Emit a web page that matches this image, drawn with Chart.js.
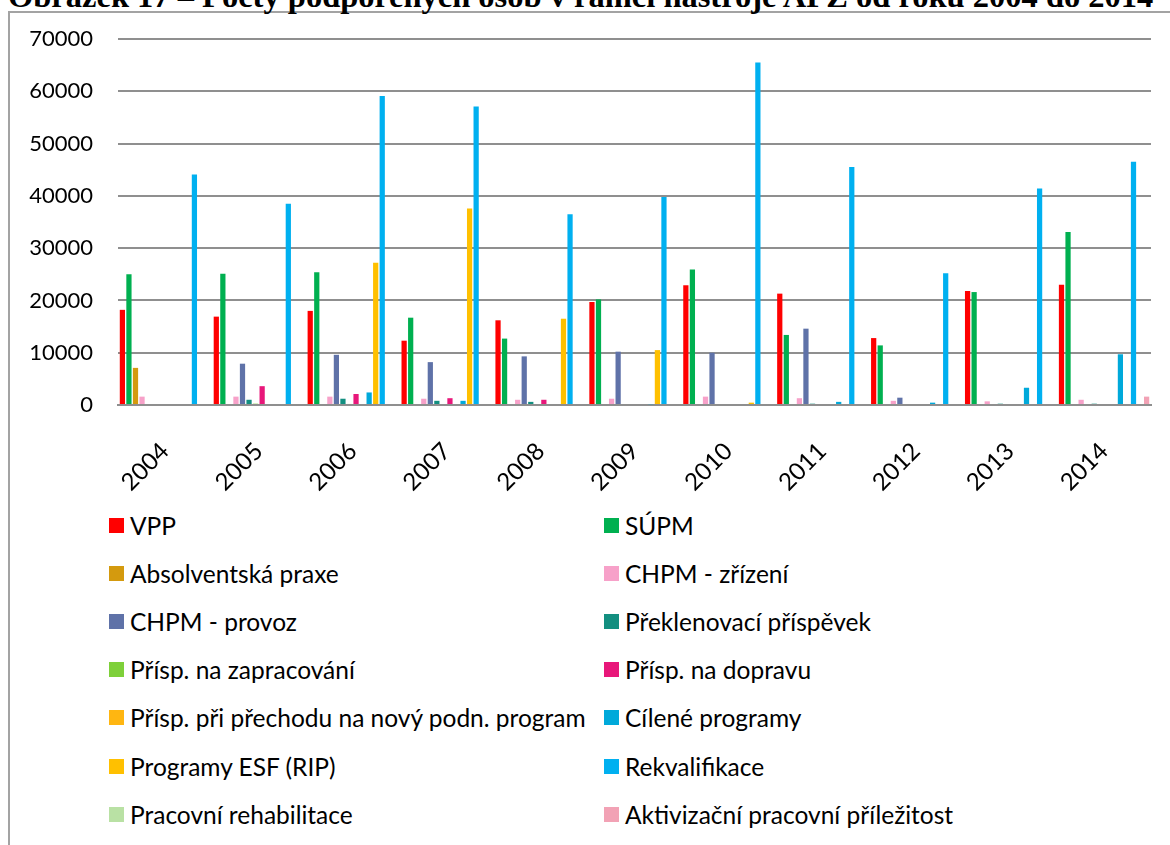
<!DOCTYPE html>
<html lang="cs">
<head>
<meta charset="utf-8">
<title>Počty podpořených osob v rámci nástroje APZ</title>
<script src="https://cdn.jsdelivr.net/npm/chart.js@4.4.1/dist/chart.umd.min.js"></script>
<style>
    html, body { margin: 0; padding: 0; background: #fff; width: 1170px; height: 845px; overflow: hidden; }
    .title { position: absolute; left: 8px; top: -20px; font: bold 32.5px/33px "Liberation Serif", "Times New Roman", serif; white-space: nowrap; color: #000; }
    .frame { position: absolute; left: 8px; top: 11px; width: 1200px; height: 900px; border-top: 2px solid #a3a3a3; border-left: 2px solid #a3a3a3; }
    .chart-wrap { position: absolute; left: 0; top: 0; width: 1170px; height: 500px; }
    .legend { position: absolute; left: 0; top: 0; font: 24.5px "Lato", sans-serif; color: #000; }
    .legend-item { position: absolute; display: flex; align-items: center; height: 30px; white-space: nowrap; }
    .legend-box { width: 15px; height: 15px; margin-right: 6px; flex: none; }
</style>
</head>
<body>
<div class="frame"></div>
<div class="title">Obrázek 17 – Počty podpořených osob v rámci nástroje APZ od roku 2004 do 2014</div>
<div class="chart-wrap"><canvas id="apzChart" width="1170" height="500"></canvas></div>
<div class="legend" id="apzLegend"></div>

<script>
// data
const years = ['2004', '2005', '2006', '2007', '2008', '2009', '2010', '2011', '2012', '2013', '2014'];
const yTickLabels = ['0', '10000', '20000', '30000', '40000', '50000', '60000', '70000'];

const vpp = [18200, 16900, 18000, 12300, 16200, 19700, 22900, 21300, 12800, 21800, 23000];
const supm = [25000, 25100, 25400, 16700, 12700, 20200, 25900, 13400, 11400, 21600, 33100];
const absolventskaPraxe = [7100, 0, 0, 0, 0, 0, 0, 0, 0, 0, 0];
const chpmZrizeni = [1600, 1600, 1600, 1200, 1000, 1200, 1600, 1300, 800, 700, 1000];
const chpmProvoz = [0, 7900, 9600, 8200, 9300, 10200, 10000, 14600, 1400, 0, 0];
const preklenovaci = [0, 1000, 1200, 800, 600, 0, 0, 250, 0, 250, 250];
const zapracovani = [0, 250, 200, 0, 0, 0, 0, 0, 0, 0, 0];
const doprava = [0, 3600, 2100, 1300, 1000, 0, 0, 0, 0, 0, 0];
const prechod = [0, 0, 0, 0, 0, 0, 0, 0, 0, 0, 0];
const cilene = [0, 0, 2400, 800, 0, 150, 0, 600, 450, 3300, 9700];
const esfRip = [0, 0, 27200, 37600, 16500, 10500, 450, 0, 0, 0, 0];
const rekvalifikace = [44100, 38500, 59100, 57100, 36500, 39800, 65500, 45500, 25200, 41400, 46500];
const rehabilitace = [0, 0, 0, 0, 0, 0, 0, 0, 0, 0, 0];
const aktivizacni = [0, 0, 0, 0, 0, 0, 0, 0, 0, 0, 1600];

const seriesNames = [
    'VPP', 'SÚPM', 'Absolventská praxe', 'CHPM - zřízení', 'CHPM - provoz',
    'Překlenovací příspěvek', 'Přísp. na zapracování', 'Přísp. na dopravu',
    'Přísp. při přechodu na nový podn. program', 'Cílené programy',
    'Programy ESF (RIP)', 'Rekvalifikace', 'Pracovní rehabilitace',
    'Aktivizační pracovní příležitost'
];
const seriesValues = [
    vpp, supm, absolventskaPraxe, chpmZrizeni, chpmProvoz, preklenovaci, zapracovani,
    doprava, prechod, cilene, esfRip, rekvalifikace, rehabilitace, aktivizacni
];
const seriesColors = [
    '#FF0000', '#00B050', '#D49A0E', '#F7A1C9', '#5F72A8', '#138F80', '#7ED03A',
    '#E8177A', '#FFB611', '#00A9DA', '#FFC000', '#00B0F0', '#B9E1A4', '#F2A2B5'
];

const gridColor = '#8f8f8f';
Chart.defaults.font.family = 'Lato, sans-serif';
Chart.defaults.color = '#000';

const chart = new Chart(document.getElementById('apzChart').getContext('2d'), {
    type: 'bar',
    data: {
        labels: years,
        datasets: seriesNames.map((name, i) => ({
            label: name,
            data: seriesValues[i],
            backgroundColor: seriesColors[i],
            borderWidth: 0,
            categoryPercentage: 0.976,
            barPercentage: 0.8
        }))
    },
    options: {
        responsive: false,
        animation: false,
        layout: { padding: { left: 8, top: 39, right: 19, bottom: 0 } },
        plugins: { legend: { display: false }, tooltip: { enabled: false } },
        scales: {
            y: {
                min: 0,
                max: 70000,
                ticks: {
                    stepSize: 10000,
                    padding: 25,
                    font: { size: 22 },
                    callback: (v, i) => yTickLabels[i]
                },
                grid: { color: gridColor, lineWidth: 2, drawTicks: false },
                border: { display: false },
                afterFit: axis => { axis.width = 110; }
            },
            x: {
                ticks: { minRotation: 45, maxRotation: 45, padding: 24, font: { size: 24 } },
                grid: { display: false },
                border: { color: gridColor, width: 2 },
                afterFit: axis => { axis.height = 95; }
            }
        }
    }
});

// two-column legend like the original
const legend = document.getElementById('apzLegend');
legend.innerHTML = chart.data.datasets.map((ds, i) => {
    const left = i % 2 === 0 ? 109 : 604;
    const top = 525 + Math.floor(i / 2) * 48.2 - 15;
    return `<div class="legend-item" style="left:${left}px;top:${top}px">
        <span class="legend-box" style="background:${ds.backgroundColor}"></span>${ds.label}
    </div>`;
}).join('');
</script>
</body>
</html>
